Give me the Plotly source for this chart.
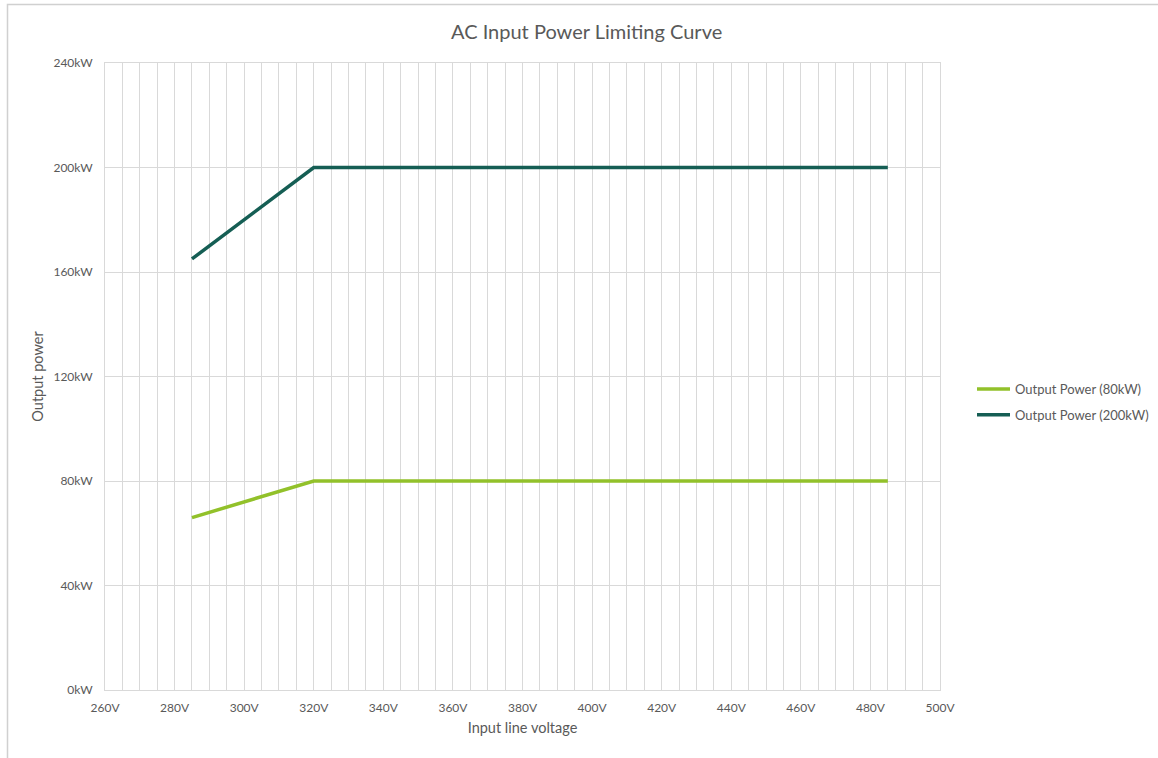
import plotly.graph_objects as go

# Data
voltage = [285, 320, 485]
power_80kw = [66, 80, 80]
power_200kw = [165, 200, 200]
series_names = ["Output Power (80kW)", "Output Power (200kW)"]
series_colors = ["#92C12A", "#155E54"]

W, H = 1158, 758
L, R, T, B = 105, 940, 63, 690

FONT = "Lato, Carlito, Calibri, sans-serif"
TXT = "#595959"
GRID = "#D9D9D9"

fig = go.Figure()
for i, (name, ys, col) in enumerate(zip(series_names, [power_80kw, power_200kw], series_colors)):
    fig.add_trace(go.Scatter(x=voltage, y=ys, mode="lines", name=name, legendgroup=f"g{i}",
                             line=dict(color=col, width=3.5)))

def px_x(p):
    return (p - L) / (R - L)

def px_y(p):
    return (B - p) / (B - T)

fig.update_layout(
    width=W, height=H,
    margin=dict(l=L, r=W - R, t=T, b=H - B, autoexpand=False),
    paper_bgcolor="white", plot_bgcolor="white",
    font=dict(family=FONT, color=TXT, size=12),
    showlegend=True,
    legend=dict(x=px_x(972), y=px_y(402), xanchor="left", yanchor="middle",
                font=dict(size=13, color=TXT, family=FONT),
                traceorder="grouped", tracegroupgap=6,
                itemwidth=33, bgcolor="rgba(0,0,0,0)"),
    xaxis=dict(range=[260, 500], dtick=20, tick0=260, ticksuffix="V",
               showgrid=True, gridcolor=GRID, gridwidth=1,
               minor=dict(dtick=5, showgrid=True, gridcolor=GRID, gridwidth=1),
               showline=True, linecolor=GRID, linewidth=1, mirror=True,
               zeroline=False, ticks="", ticklabelstandoff=7,
               tickfont=dict(size=12, color=TXT),
               title=dict(text="Input line voltage", font=dict(size=14.5, color=TXT), standoff=8)),
    yaxis=dict(range=[0, 240], dtick=40, tick0=0, ticksuffix="kW",
               showgrid=True, gridcolor=GRID, gridwidth=1,
               showline=True, linecolor=GRID, linewidth=1, mirror=True,
               zeroline=False, ticks="", ticklabelstandoff=9,
               tickfont=dict(size=12, color=TXT),
               title=dict(text="Output power", font=dict(size=14.5, color=TXT), standoff=6)),
    annotations=[dict(text="AC Input Power Limiting Curve", xref="paper", yref="paper",
                      x=px_x(586), y=px_y(31), xanchor="center", yanchor="middle",
                      showarrow=False, font=dict(size=20, color=TXT, family=FONT))],
    shapes=[dict(type="rect", xref="paper", yref="paper",
                 x0=px_x(7.5), x1=px_x(1170), y0=px_y(770), y1=px_y(4.5),
                 line=dict(color="#D0D0D0", width=1.5), fillcolor="rgba(0,0,0,0)", layer="below")],
)

fig.write_html("out.html", config={"displayModeBar": False},
               post_script="document.body.style.margin='0';document.body.style.overflow='hidden';")
